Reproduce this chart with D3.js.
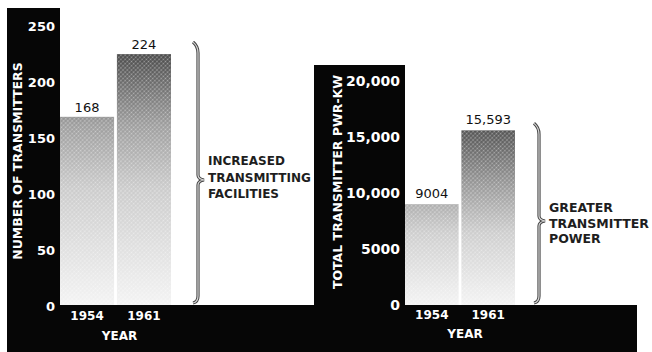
<!DOCTYPE html>
<html>
<head>
<meta charset="utf-8">
<script src="https://cdn.jsdelivr.net/npm/d3@7/dist/d3.min.js"></script>
<style>
  html, body { margin: 0; padding: 0; background: #fff; }
  svg { display: block; }
  text { font-family: "DejaVu Sans", sans-serif; }
</style>
</head>
<body>
<svg id="chart" width="652" height="352"></svg>
<script>
// ---- data ----
const years = ["1954", "1961"];
const transmitters = [168, 224];
const transmitterLabels = ["168", "224"];
const powerKW = [9004, 15593];
const powerLabels = ["9004", "15,593"];
const leftTicks = [0, 50, 100, 150, 200, 250];
const rightTicks = [0, 5000, 10000, 15000, 20000];
const rightTickLabels = ["0", "5000", "10,000", "15,000", "20,000"];
const leftTitle = "NUMBER OF TRANSMITTERS";
const rightTitle = "TOTAL TRANSMITTER PWR-KW";
const leftNote = ["INCREASED", "TRANSMITTING", "FACILITIES"];
const rightNote = ["GREATER", "TRANSMITTER", "POWER"];
const xTitle = "YEAR";

const svg = d3.select("#chart");
svg.append("rect").attr("width", 652).attr("height", 352).attr("fill", "#fff");

const defs = svg.append("defs");
// halftone dot pattern
const pat = defs.append("pattern").attr("id", "dots").attr("width", 3).attr("height", 3)
  .attr("patternUnits", "userSpaceOnUse").attr("patternTransform", "rotate(45)");
pat.append("circle").attr("cx", 1.5).attr("cy", 1.5).attr("r", 0.9).attr("fill", "#fff").attr("opacity", 0.45);

function makeGrad(id, y0, y1, stops) {
  const g = defs.append("linearGradient").attr("id", id)
    .attr("gradientUnits", "userSpaceOnUse").attr("x1", 0).attr("x2", 0).attr("y1", y0).attr("y2", y1);
  stops.forEach(s => g.append("stop").attr("offset", s[0]).attr("stop-color", s[1]));
}

const baseY = 305;
const black = "#060606";

// ---- black backgrounds ----
svg.append("rect").attr("x", 7).attr("y", 8).attr("width", 53).attr("height", 300).attr("fill", black);
svg.append("rect").attr("x", 314).attr("y", 65).attr("width", 91).attr("height", 243).attr("fill", black);
svg.append("rect").attr("x", 7).attr("y", baseY).attr("width", 630).attr("height", 352 - baseY).attr("fill", black);

// ---- left panel ----
const yL = d3.scaleLinear().domain([0, 250]).range([baseY, 25]);
const xL = d3.scaleBand().domain(years).range([60, 171]).paddingInner(0.05);

makeGrad("gL", yL(230), baseY, [[0, "#3e3e3e"], [0.3, "#9a9a9a"], [0.55, "#cacaca"], [1, "#f3f3f3"]]);

const gLeft = svg.append("g");
gLeft.selectAll("rect.bar").data(transmitters).join("rect").attr("class", "bar")
  .attr("x", (d, i) => xL(years[i])).attr("width", xL.bandwidth())
  .attr("y", d => yL(d)).attr("height", d => baseY - yL(d))
  .attr("fill", "url(#gL)");
gLeft.selectAll("rect.dot").data(transmitters).join("rect").attr("class", "dot")
  .attr("x", (d, i) => xL(years[i])).attr("width", xL.bandwidth())
  .attr("y", d => yL(d)).attr("height", d => baseY - yL(d))
  .attr("fill", "url(#dots)");
gLeft.selectAll("text.val").data(transmitters).join("text").attr("class", "val")
  .attr("x", (d, i) => xL(years[i]) + xL.bandwidth() / 2).attr("y", d => yL(d) - 5)
  .attr("text-anchor", "middle").attr("font-size", 13).attr("fill", "#111")
  .text((d, i) => transmitterLabels[i]);

const axL = svg.append("g").attr("transform", "translate(60,0)")
  .call(d3.axisLeft(yL).tickValues(leftTicks).tickSize(0).tickPadding(5).tickFormat(d3.format("d")));
axL.select(".domain").remove();
axL.selectAll("text").attr("fill", "#fff").attr("font-size", 13).attr("font-weight", "bold")
  .attr("font-family", "DejaVu Sans, sans-serif").attr("dy", "0.4em");

svg.append("text").attr("transform", `translate(22,${(yL(250) + baseY) / 2 - 4}) rotate(-90)`)
  .attr("text-anchor", "middle").attr("fill", "#fff").attr("font-size", 12.5).attr("font-weight", "bold")
  .attr("font-family", "DejaVu Sans Condensed, DejaVu Sans, sans-serif")
  .text(leftTitle);

const xAxL = svg.append("g").attr("transform", `translate(0,${baseY})`)
  .call(d3.axisBottom(xL).tickSize(0).tickPadding(6));
xAxL.select(".domain").remove();
xAxL.selectAll("text").attr("fill", "#fff").attr("font-size", 12).attr("font-weight", "bold")
  .attr("font-family", "DejaVu Sans Condensed, DejaVu Sans, sans-serif");
svg.append("text").attr("x", (xL.range()[0] + xL.range()[1]) / 2 + 4).attr("y", 340)
  .attr("text-anchor", "middle").attr("fill", "#fff").attr("font-size", 12).attr("font-weight", "bold")
  .attr("font-family", "DejaVu Sans Condensed, DejaVu Sans, sans-serif").text(xTitle);

// ---- right panel ----
const yR = d3.scaleLinear().domain([0, 20000]).range([baseY, 81]);
const xR = d3.scaleBand().domain(years).range([405, 515]).paddingInner(0.05);

makeGrad("gR", yR(16000), baseY, [[0, "#4a4a4a"], [0.35, "#9a9a9a"], [0.6, "#cdcdcd"], [1, "#f3f3f3"]]);

const gRight = svg.append("g");
gRight.selectAll("rect.bar").data(powerKW).join("rect").attr("class", "bar")
  .attr("x", (d, i) => xR(years[i])).attr("width", xR.bandwidth())
  .attr("y", d => yR(d)).attr("height", d => baseY - yR(d))
  .attr("fill", "url(#gR)");
gRight.selectAll("rect.dot").data(powerKW).join("rect").attr("class", "dot")
  .attr("x", (d, i) => xR(years[i])).attr("width", xR.bandwidth())
  .attr("y", d => yR(d)).attr("height", d => baseY - yR(d))
  .attr("fill", "url(#dots)");
gRight.selectAll("text.val").data(powerKW).join("text").attr("class", "val")
  .attr("x", (d, i) => xR(years[i]) + xR.bandwidth() / 2).attr("y", d => yR(d) - 6)
  .attr("text-anchor", "middle").attr("font-size", 13).attr("fill", "#111")
  .text((d, i) => powerLabels[i]);

const axR = svg.append("g").attr("transform", "translate(405,0)")
  .call(d3.axisLeft(yR).tickValues(rightTicks).tickSize(0).tickPadding(5)
    .tickFormat((d, i) => rightTickLabels[i]));
axR.select(".domain").remove();
axR.selectAll("text").attr("fill", "#fff").attr("font-size", 14).attr("font-weight", "bold")
  .attr("font-family", "DejaVu Sans, sans-serif").attr("dy", "0.35em");

svg.append("text").attr("transform", `translate(342,${(yR(20000) + baseY) / 2 - 11}) rotate(-90)`)
  .attr("text-anchor", "middle").attr("fill", "#fff").attr("font-size", 12.5).attr("font-weight", "bold")
  .attr("font-family", "DejaVu Sans Condensed, DejaVu Sans, sans-serif")
  .text(rightTitle);

const xAxR = svg.append("g").attr("transform", `translate(0,${baseY})`)
  .call(d3.axisBottom(xR).tickSize(0).tickPadding(5));
xAxR.select(".domain").remove();
xAxR.selectAll("text").attr("fill", "#fff").attr("font-size", 12).attr("font-weight", "bold")
  .attr("font-family", "DejaVu Sans Condensed, DejaVu Sans, sans-serif");
svg.append("text").attr("x", (xR.range()[0] + xR.range()[1]) / 2 + 5).attr("y", 338)
  .attr("text-anchor", "middle").attr("fill", "#fff").attr("font-size", 12).attr("font-weight", "bold")
  .attr("font-family", "DejaVu Sans Condensed, DejaVu Sans, sans-serif").text(xTitle);

// ---- braces ----
function brace(x, top, mid, bot) {
  const p = d3.path();
  p.moveTo(x - 5, top - 5);
  p.quadraticCurveTo(x, top - 1, x, top + 6);
  p.lineTo(x, mid - 5);
  p.quadraticCurveTo(x, mid - 1, x + 6, mid);
  p.quadraticCurveTo(x, mid + 1, x, mid + 5);
  p.lineTo(x, bot - 6);
  p.quadraticCurveTo(x, bot, x - 5, bot + 1);
  return p.toString();
}
function drawBrace(x, top, mid, bot) {
  svg.append("path").attr("d", brace(x, top, mid, bot)).attr("fill", "none")
    .attr("stroke", "#444").attr("stroke-width", 3.2);
  svg.append("path").attr("d", brace(x, top, mid, bot)).attr("fill", "none")
    .attr("stroke", "#d8d8d8").attr("stroke-width", 1.2);
}
drawBrace(198, yL(transmitters[1]) - 7, 180, baseY - 3);
drawBrace(539, yR(powerKW[1]) - 2, 221, baseY - 3);

function note(lines, x, y0, dy, size) {
  svg.append("g").selectAll("text").data(lines).join("text")
    .attr("x", x).attr("y", (d, i) => y0 + i * dy)
    .attr("font-size", size).attr("font-weight", "bold").attr("fill", "#1e1e1e")
    .text(d => d);
}
note(leftNote, 208, 165, 16.5, 12);
note(rightNote, 549, 212, 15.5, 12.5);
</script>
</body>
</html>
